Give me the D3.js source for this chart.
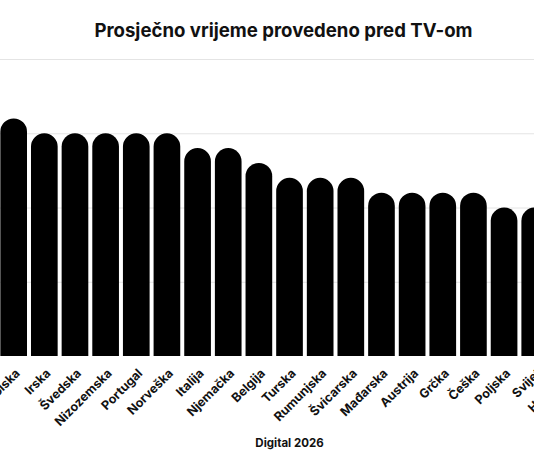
<!DOCTYPE html>
<html>
<head>
<meta charset="utf-8">
<script src="https://cdn.jsdelivr.net/npm/d3@7"></script>
<style>
  html, body { margin: 0; padding: 0; background: #fff; overflow: hidden; }
  body { width: 534px; height: 462px; }
  svg { font-family: "Inter", "Liberation Sans", sans-serif; }
</style>
</head>
<body>
<div id="chart"></div>
<script>
// Data (hours per day)
const countries = ["Mongolska", "Irska", "Švedska", "Nizozemska", "Portugal", "Norveška",
  "Italija", "Njemačka", "Belgija", "Turska", "Rumunjska", "Švicarska", "Mađarska",
  "Austrija", "Grčka", "Češka", "Poljska", "Svijet", "Hrvatska"];
const hours = [3.2, 3.0, 3.0, 3.0, 3.0, 3.0, 2.8, 2.8, 2.6, 2.4, 2.4, 2.4, 2.2,
  2.2, 2.2, 2.2, 2.0, 2.0, 1.8];
const yTicks = [0, 1, 2, 3, 4];

const data = countries.map((c, i) => ({ country: c, value: hours[i] }));

const width = 600, height = 462;
const svg = d3.select("#chart")
  .append("svg")
  .attr("width", width)
  .attr("height", height);

const x = d3.scaleBand()
  .domain(countries)
  .range([-1.65, 580.7])
  .paddingInner(0.13)
  .paddingOuter(0.065);

const y = d3.scaleLinear()
  .domain([0, 4])
  .range([356, 59]);

// gridlines
svg.append("g")
  .selectAll("line")
  .data(yTicks.filter(d => d > 0))
  .enter()
  .append("line")
  .attr("x1", 0)
  .attr("x2", width)
  .attr("y1", d => y(d) + 0.5)
  .attr("y2", d => y(d) + 0.5)
  .attr("stroke", "#e4e4e4")
  .attr("stroke-width", 1);

// bars with rounded tops
const bw = x.bandwidth();
const r = bw / 2;
svg.append("g")
  .selectAll("path")
  .data(data)
  .enter()
  .append("path")
  .attr("d", d => {
    const x0 = x(d.country), top = y(d.value), base = y(0);
    return `M${x0},${base}L${x0},${top + r}A${r},${r} 0 0 1 ${x0 + bw},${top + r}L${x0 + bw},${base}Z`;
  })
  .attr("fill", "#000");

// x labels
svg.append("g")
  .selectAll("text")
  .data(data)
  .enter()
  .append("text")
  .attr("transform", d => `translate(${x(d.country) + bw / 2 + 7},${y(0) + 18}) rotate(-45)`)
  .attr("text-anchor", "end")
  .attr("font-size", 12.5)
  .attr("font-weight", 700)
  .attr("fill", "#111")
  .text(d => d.country);

// title
svg.append("text")
  .attr("x", 283.5)
  .attr("y", 37)
  .attr("text-anchor", "middle")
  .attr("font-size", 18.6)
  .attr("font-weight", 700)
  .attr("fill", "#111")
  .text("Prosječno vrijeme provedeno pred TV-om");

// axis title
svg.append("text")
  .attr("x", 289.5)
  .attr("y", 447)
  .attr("text-anchor", "middle")
  .attr("font-size", 11.5)
  .attr("font-weight", 700)
  .attr("fill", "#111")
  .text("Digital 2026");
</script>
</body>
</html>
